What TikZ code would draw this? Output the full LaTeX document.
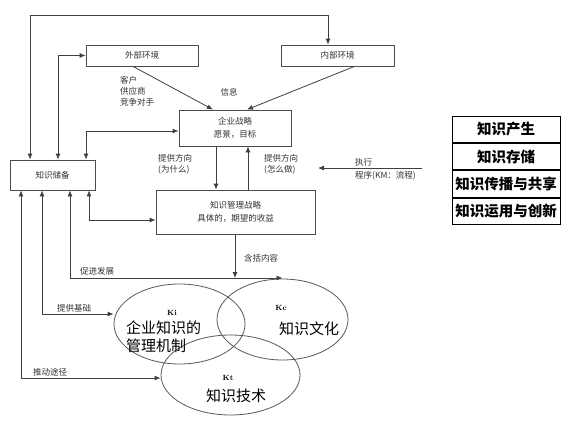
\documentclass[tikz,border=0pt]{standalone}
\usepackage{fontspec}
\newfontfamily\cjk{Noto Sans CJK SC}
\usetikzlibrary{arrows.meta,shapes.geometric,calc}
\begin{document}
\begin{tikzpicture}[x=1pt,y=-1pt,
  ln/.style={draw=black!75,line width=0.8pt},
  arr/.style={ln,-{Latex[length=6pt,width=5pt]}},
  arrb/.style={ln,{Latex[length=6pt,width=5pt]}-{Latex[length=6pt,width=5pt]}},
  box/.style={draw=black!70,line width=0.8pt,inner sep=0pt,font=\cjk\fontsize{8.5}{11}\selectfont,text=black!80,align=center},
  lab/.style={font=\cjk\fontsize{8.5}{11}\selectfont,text=black!80,inner sep=0pt,align=left},
  ell/.style={ellipse,draw=black!65,line width=0.8pt,inner sep=0pt},
  big/.style={font=\cjk\fontsize{15}{18}\selectfont,inner sep=0pt,align=left},
  kk/.style={font=\bfseries\fontsize{7.5}{9}\selectfont,inner sep=0pt},
  row/.style={draw=black,line width=0.9pt,minimum width=108pt,minimum height=26.3pt,inner sep=0pt,font=\cjk\bfseries\fontsize{14.5}{17}\selectfont}
]
\useasboundingbox (0,0) rectangle (576,431);
\fill[white] (0,0) rectangle (576,431);

% boxes
\node[box,minimum width=112pt,minimum height=21pt] (ext) at (142,55.5) {外部环境};
\node[box,minimum width=113pt,minimum height=21pt] (inner) at (337.5,55.5) {内部环境};
\node[box,minimum width=112pt,minimum height=36pt] (strat) at (235,128) {企业战略\\[2pt]愿景，目标};
\node[box,minimum width=159pt,minimum height=44pt] (km) at (235.5,212) {知识管理战略\\[2pt]具体的，期望的收益};
\node[box,minimum width=85pt,minimum height=30pt] (res) at (52.5,175) {知识储备};

% ellipses
\node[ell,minimum width=131pt,minimum height=80pt] (ki) at (179.5,324) {};
\node[ell,minimum width=131pt,minimum height=81pt] (kc) at (282.5,319.5) {};
\node[ell,minimum width=139pt,minimum height=80pt] (kt) at (230.5,375) {};

\node[kk] (kil) at (172,313) {Ki};
\node[big,anchor=west] (kitxt) at (126,337) {企业知识的\\管理机制};
\node[kk] (kcl) at (281,308) {Kc};
\node[big,anchor=west] (kctxt) at (279,329) {知识文化};
\node[kk] (ktl) at (228,378) {Kt};
\node[big,anchor=west] (kttxt) at (206,396) {知识技术};

% table
\node[row] (r1) at (506,129.5) {知识产生};
\node[row,anchor=north] (r2) at (r1.south) {知识存储};
\node[row,anchor=north] (r3) at (r2.south) {知识传播与共享};
\node[row,anchor=north] (r4) at (r3.south) {知识运用与创新};

% coordinates
\coordinate (t1) at (30,15);
\coordinate (t2) at (328,15);
\coordinate (c2) at (58,0);
\coordinate (c3) at (86,0);
\coordinate (d1) at (216,0);
\coordinate (d2) at (248,0);
\coordinate (k4) at (89,220);
\coordinate (k3) at (70,278);
\coordinate (k2) at (42,314);
\coordinate (k1) at (21,378);
\coordinate (ex1) at (422,168);
\coordinate (ex2) at (318,168);

% connectors
\draw[arrb] (res.north -| t1) -- (t1) -- (t2) -- (inner.north -| t2);
\draw[arrb] (ext.west) -| (res.north -| c2);
\draw[arrb] ([yshift=-3pt]strat.west) -| (res.north -| c3);
\draw[arr] ([xshift=-9pt]ext.south) -- ([xshift=-22pt]strat.north);
\draw[arr] ([xshift=17pt]inner.south) -- ([xshift=12pt]strat.north);
\draw[arr] (strat.south -| d1) -- (km.north -| d1);
\draw[arr] (km.north -| d2) -- (strat.south -| d2);
\draw[arr] (ex1) -- (ex2);
\draw[arrb] (res.south -| k4) -- (k4) -- (k4 -| km.west);
\draw[arrb] (res.south -| k3) -- (k3) -- (k3 -| kc.north);
\draw[arr] (km.south -| 235,0) -- (k3 -| 235,0);
\draw[arrb] (res.south -| k2) -- (k2) -- (k2 -| ki.west);
\draw[arrb] (res.south -| k1) -- (k1) -- (k1 -| kt.west);

% labels
\node[lab,anchor=north west] (l1) at (120,76) {客户\\供应商\\竞争对手};
\node[lab] (l2) at (229,92) {信息};
\node[lab,anchor=north west] (l3) at (158,154) {提供方向\\(为什么)};
\node[lab,anchor=north west] (l4) at (264,154) {提供方向\\(怎么做)};
\node[lab,anchor=west] (l5) at (355,162) {执行};
\node[lab,anchor=west] (l6) at (355,176) {程序(KM：流程)};
\node[lab,anchor=west] (l7) at (244,258) {含括内容};
\node[lab,anchor=west] (l8) at (80,271) {促进发展};
\node[lab,anchor=west] (l9) at (57,308) {提供基础};
\node[lab,anchor=west] (l10) at (33,372) {推动途径};
\end{tikzpicture}
\end{document}
